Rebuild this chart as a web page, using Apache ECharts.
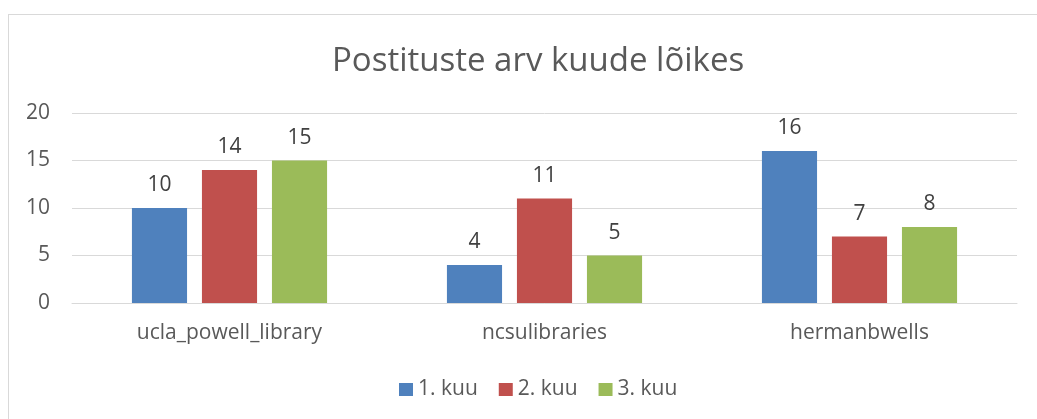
<!DOCTYPE html>
<html>
<head>
<meta charset="UTF-8">
<script src="https://cdn.jsdelivr.net/npm/echarts@6.0.0/dist/echarts.min.js"></script>
<style>
    * { margin: 0; padding: 0; box-sizing: border-box; }
    body { width: 1037px; height: 419px; background: #fff; overflow: hidden; }
    .frame { position: absolute; left: 8px; top: 14px; width: 1040px; height: 420px; border: 1px solid #d9d9d9; }
    #chart { position: absolute; left: 0; top: 0; width: 1037px; height: 419px; }
</style>
</head>
<body>
<div class="frame"></div>
<div id="chart"></div>
<script>
    const categories = ['ucla_powell_library', 'ncsulibraries', 'hermanbwells'];
    const month1 = [10, 4, 16];
    const month2 = [14, 11, 7];
    const month3 = [15, 5, 8];
    const seriesNames = ['1. kuu', '2. kuu', '3. kuu'];
    const colors = ['#4F81BD', '#C0504D', '#9BBB59'];

    const font = "'Open Sans', 'Noto Sans', sans-serif";
    const textColor = '#595959';

    const chart = echarts.init(document.getElementById('chart'));
    const makeSeries = (name, data, i) => ({
        name: name,
        type: 'bar',
        data: data,
        barWidth: '17.5%',
        barGap: '27%',
        itemStyle: { color: colors[i] },
        label: {
            show: true,
            position: 'top',
            distance: 12,
            color: '#404040',
            fontSize: 21,
            fontFamily: font
        }
    });

    chart.setOption({
        animation: false,
        title: {
            text: 'Postituste arv kuude lõikes',
            left: 327,
            top: 40,
            textStyle: { color: textColor, fontSize: 33, fontWeight: 'normal', fontFamily: font }
        },
        legend: {
            bottom: 14,
            left: 394,
            itemWidth: 14,
            itemHeight: 13,
            itemGap: 21,
            icon: 'rect',
            textStyle: { color: textColor, fontSize: 21, fontFamily: font }
        },
        grid: { left: 72, right: 20, top: 113, bottom: 116, containLabel: false },
        xAxis: {
            type: 'category',
            data: categories,
            axisLine: { lineStyle: { color: '#d9d9d9' } },
            axisTick: { show: false },
            axisLabel: { color: textColor, fontSize: 21, fontFamily: font, margin: 20 }
        },
        yAxis: {
            type: 'value',
            min: 0,
            max: 20,
            interval: 5,
            axisLine: { show: false },
            axisTick: { show: false },
            splitLine: { lineStyle: { color: '#d9d9d9', width: 1 } },
            axisLabel: { color: textColor, fontSize: 21, fontFamily: font, margin: 22 }
        },
        series: [
            makeSeries(seriesNames[0], month1, 0),
            makeSeries(seriesNames[1], month2, 1),
            makeSeries(seriesNames[2], month3, 2)
        ]
    });
</script>
</body>
</html>
